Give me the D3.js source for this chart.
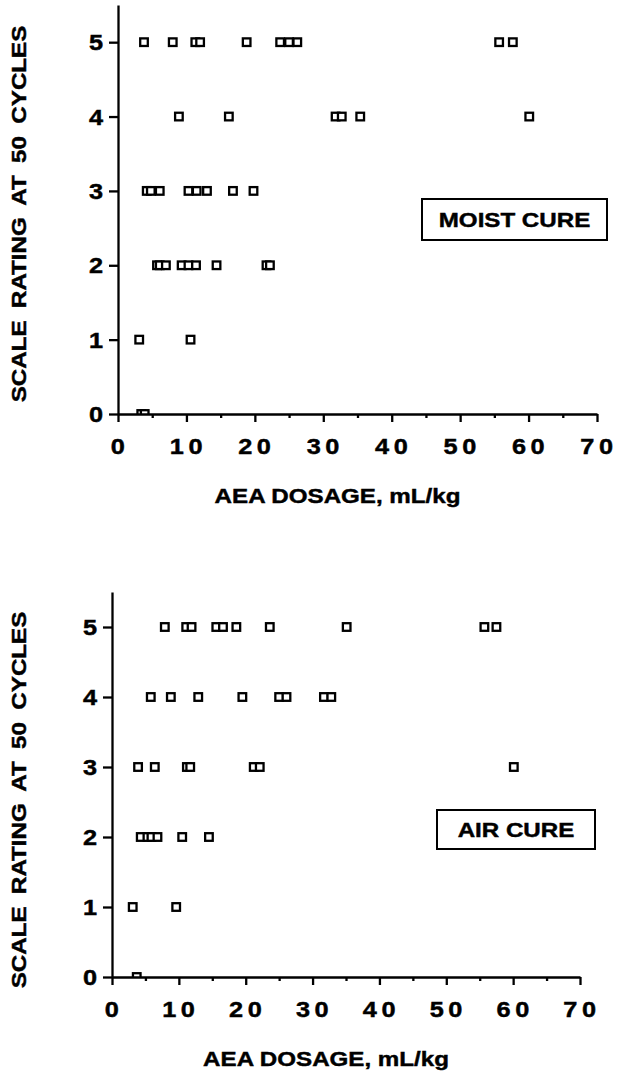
<!DOCTYPE html>
<html>
<head>
<meta charset="utf-8">
<script src="https://d3js.org/d3.v7.min.js"></script>
<style>
  body { margin: 0; background: #fff; }
  svg text { font-family: "Liberation Sans", Arial, Helvetica, sans-serif; font-weight: bold; fill: #000; stroke: #000; stroke-width: 0.45; }
</style>
</head>
<body>
<svg id="chart" width="625" height="1086"></svg>
<script>
// data
var moistDose = [3.8, 8.0, 11.3, 12.0, 18.8, 23.7, 25.0, 26.2, 55.7, 57.7,
                 8.9, 16.2, 31.8, 32.7, 35.4, 60.1,
                 4.2, 4.8, 6.1, 10.3, 11.5, 13.0, 16.8, 19.8,
                 5.7, 6.1, 7.0, 9.3, 10.3, 11.4, 14.4, 21.7, 22.2,
                 3.1, 10.6,
                 3.4, 3.9];
var moistRating = [5, 5, 5, 5, 5, 5, 5, 5, 5, 5,
                   4, 4, 4, 4, 4, 4,
                   3, 3, 3, 3, 3, 3, 3, 3,
                   2, 2, 2, 2, 2, 2, 2, 2, 2,
                   1, 1,
                   0, 0];

var airDose = [7.9, 11.1, 11.9, 15.6, 16.6, 18.6, 23.6, 35.1, 55.7, 57.5,
               5.8, 8.8, 12.9, 19.5, 25.0, 26.1, 31.7, 32.8,
               3.9, 6.4, 11.2, 11.7, 21.2, 22.1, 60.1,
               4.3, 5.3, 5.9, 6.8, 10.5, 14.5,
               3.1, 9.6,
               3.7];
var airRating = [5, 5, 5, 5, 5, 5, 5, 5, 5, 5,
                 4, 4, 4, 4, 4, 4, 4, 4,
                 3, 3, 3, 3, 3, 3, 3,
                 2, 2, 2, 2, 2, 2,
                 1, 1,
                 0];

var xMajorTicks = [0, 10, 20, 30, 40, 50, 60, 70];
var xMinorTicks = [5, 15, 25, 35, 45, 55, 65];
var yTicks = [0, 1, 2, 3, 4, 5];
var xTitle = "AEA DOSAGE, mL/kg";
var yTitle = "SCALE RATING AT 50 CYCLES";

var svg = d3.select("#chart");
var stretch = 1.15; // the print face is wider than Helvetica

function label(g, x, y, str, anchor, size, rotate) {
  var t = "translate(" + x + "," + y + ")" + (rotate ? " rotate(-90)" : "") + " scale(" + stretch + ",1)";
  return g.append("text")
    .attr("transform", t)
    .attr("text-anchor", anchor)
    .attr("font-size", size)
    .text(str);
}

function drawPanel(opts, idx) {
  var x = d3.scaleLinear().domain([0, 70]).range([opts.left, opts.right]);
  var y = d3.scaleLinear().domain([0, 5.5]).range([opts.bottom, opts.top]);
  var g = svg.append("g");

  // markers on the zero line are cut off by the axis
  svg.append("clipPath").attr("id", "clip" + idx)
    .append("rect")
    .attr("x", opts.left).attr("y", opts.top - 10)
    .attr("width", opts.right - opts.left + 20)
    .attr("height", opts.bottom - opts.top + 10);

  var pts = opts.dose.map(function(d, i) { return {dose: d, rating: opts.rating[i]}; });
  g.append("g").attr("clip-path", "url(#clip" + idx + ")")
    .selectAll("rect")
    .data(pts)
    .enter()
    .append("rect")
    .attr("x", function(d) { return x(d.dose) - 3.8; })
    .attr("y", function(d) { return y(d.rating) - 3.8; })
    .attr("width", 7.6)
    .attr("height", 7.6)
    .attr("fill", "#fff")
    .attr("stroke", "#000")
    .attr("stroke-width", 2.3);

  // minor x ticks
  g.append("g")
    .attr("transform", "translate(0," + opts.bottom + ")")
    .call(d3.axisBottom(x).tickValues(xMinorTicks).tickSize(4).tickSizeOuter(0).tickFormat(""))
    .call(function(a) { a.select(".domain").remove(); });

  g.append("g")
    .attr("transform", "translate(0," + opts.bottom + ")")
    .call(d3.axisBottom(x).tickValues(xMajorTicks).tickSize(8).tickSizeOuter(0).tickFormat(""));

  g.append("g")
    .attr("transform", "translate(" + opts.left + ",0)")
    .call(d3.axisLeft(y).tickValues(yTicks).tickSize(9).tickSizeOuter(0).tickFormat(""));

  g.selectAll(".domain, .tick line").attr("stroke", "#000").attr("stroke-width", 2.3);

  xMajorTicks.forEach(function(v) {
    label(g, x(v) + 2, opts.bottom + 40, v, "middle", 22).attr("letter-spacing", 4);
  });
  yTicks.forEach(function(v) {
    label(g, opts.left - 15, y(v) + 8, v, "end", 22);
  });

  label(g, (opts.left + opts.right) / 2 - 20, opts.bottom + 89, xTitle, "middle", 21);
  label(g, 26, opts.titleY, yTitle, "middle", 21, true).attr("word-spacing", 5);

  var b = opts.box;
  g.append("rect")
    .attr("x", b.x).attr("y", b.y).attr("width", b.w).attr("height", b.h)
    .attr("fill", "#fff").attr("stroke", "#000").attr("stroke-width", 2);
  label(g, b.x + b.w / 2, b.y + b.h / 2 + 7.5, b.text, "middle", 21);
}

drawPanel({
  left: 118, right: 597, top: 5, bottom: 414, titleY: 214,
  dose: moistDose, rating: moistRating,
  box: {x: 422, y: 199, w: 185, h: 41, text: "MOIST CURE"}
}, 0);

drawPanel({
  left: 112, right: 580, top: 592, bottom: 977, titleY: 800,
  dose: airDose, rating: airRating,
  box: {x: 437, y: 810, w: 158, h: 39, text: "AIR CURE"}
}, 1);
</script>
</body>
</html>
